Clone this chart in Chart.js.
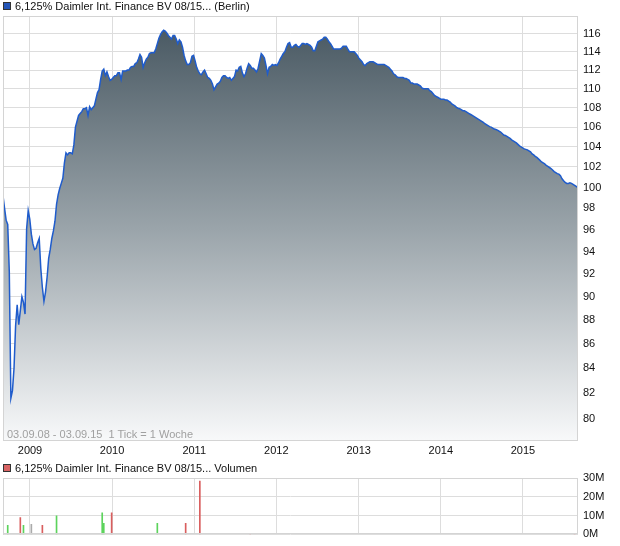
<!DOCTYPE html>
<html>
<head>
<meta charset="utf-8">
<script src="https://cdn.jsdelivr.net/npm/chart.js"></script>
<style>
    body { margin: 0; background: #fff; font-family: "Liberation Sans", Arial, sans-serif; }
    #wrap { position: relative; width: 620px; height: 546px; overflow: hidden; }
    .hdr { position: absolute; left: 3px; font-size: 11px; line-height: 12px; color: #111; white-space: nowrap; }
    .box { display: inline-block; width: 6px; height: 6px; border: 1px solid #333; margin-right: 4px; }
    #priceChart { position: absolute; left: 0; top: 0; }
    #volumeChart { position: absolute; left: 0; top: 460px; }
    .note { position: absolute; left: 7px; top: 428px; font-size: 11px; line-height: 12px; color: #a0a0a0; white-space: nowrap; }
</style>
</head>
<body>
<div id="wrap">
    <canvas id="priceChart" width="620" height="460"></canvas>
    <canvas id="volumeChart" width="620" height="86"></canvas>
    <div class="hdr" style="top:0px"><span class="box" style="background:#2456b8"></span>6,125% Daimler Int. Finance BV 08/15... (Berlin)</div>
    <div class="hdr" style="top:462px"><span class="box" style="background:#d96464"></span>6,125% Daimler Int. Finance BV 08/15... Volumen</div>
    <div class="note">03.09.08 - 03.09.15&nbsp; 1 Tick = 1 Woche</div>
</div>

<script>
// Zeitraum: 03.09.08 - 03.09.15, 1 Tick = 1 Woche
const startDate = Date.UTC(2008, 8, 3);
const endDate = Date.UTC(2015, 8, 3);
const WEEK = 7 * 24 * 3600 * 1000;

// Wochenkurse (Woche 0 = 03.09.08)
const prices = [
    99.2, 98.0, 96.9, 96.5, 92.2, 81.6, 82.2, 84.0, 87.5, 89.3,
    87.6, 88.8, 90.0, 89.5, 88.5, 96.1, 97.8, 97.0, 95.6, 94.7,
    94.2, 94.3, 94.8, 95.2, 92.5, 90.8, 89.6, 90.4, 91.7, 93.4,
    94.2, 95.2, 95.9, 96.8, 98.4, 99.3, 99.9, 100.4, 100.9, 102.4,
    103.4, 103.2, 103.4, 103.4, 103.3, 104.2, 106.0, 106.6, 107.2, 107.4,
    107.6, 107.9, 107.9, 108.0, 107.2, 108.1, 107.8, 108.0, 108.2, 108.9,
    109.6, 109.9, 111.0, 111.9, 112.1, 111.4, 111.8, 111.3, 110.9, 111.0,
    111.2, 111.4, 111.4, 111.7, 111.7, 111.0, 111.9, 111.9, 111.9, 112.0,
    112.0, 112.3, 112.4, 112.4, 112.7, 112.8, 113.2, 113.7, 113.4, 112.3,
    112.8, 113.2, 113.4, 113.8, 113.9, 113.9, 113.9, 114.3, 114.9, 115.5,
    115.9, 116.2, 116.4, 116.3, 116.1, 115.8, 115.6, 115.4, 115.8, 115.8,
    115.4, 114.9, 115.3, 115.1, 114.5, 113.6, 113.0, 112.6, 112.6, 112.8,
    113.5, 113.6, 113.0, 112.3, 111.9, 111.6, 111.5, 111.8, 112.0, 111.6,
    111.2, 111.1, 110.9, 110.5, 109.9, 110.2, 110.5, 110.6, 110.8, 111.2,
    111.4, 111.4, 111.2, 111.1, 111.2, 110.9, 111.1, 111.3, 112.0, 111.9,
    112.3, 112.4, 111.7, 111.3, 111.6, 112.2, 112.7, 112.5, 112.2, 112.2,
    112.0, 111.8, 112.2, 113.0, 113.8, 113.6, 113.3, 112.5, 111.6, 112.3,
    112.4, 112.6, 112.5, 112.6, 112.5, 112.8, 113.2, 113.5, 113.8, 114.0,
    114.5, 114.9, 115.0, 114.5, 114.5, 114.7, 114.8, 114.6, 114.5, 114.7,
    114.9, 114.9, 114.8, 114.9, 114.8, 114.7, 114.5, 114.1, 114.1, 114.6,
    115.1, 115.2, 115.3, 115.4, 115.6, 115.6, 115.4, 115.1, 114.9, 114.6,
    114.3, 114.3, 114.3, 114.3, 114.3, 114.4, 114.6, 114.6, 114.6, 114.3,
    114.0, 114.0, 114.0, 114.0, 113.8, 113.6, 113.3, 113.1, 112.9, 112.6,
    112.5, 112.7, 112.8, 112.9, 112.9, 112.9, 112.8, 112.7, 112.6, 112.6,
    112.6, 112.6, 112.6, 112.5, 112.4, 112.3, 112.1, 111.9, 111.6, 111.5,
    111.3, 111.2, 111.2, 111.2, 111.2, 111.1, 111.1, 111.0, 110.9, 110.6,
    110.6, 110.5, 110.5, 110.5, 110.4, 110.3, 110.1, 110.0, 110.0, 110.0,
    110.0, 109.8, 109.7, 109.5, 109.3, 109.2, 109.1, 109.0, 108.9, 108.9,
    108.9, 108.8, 108.8, 108.7, 108.6, 108.4, 108.3, 108.2, 108.05, 107.95,
    107.9, 107.8, 107.7, 107.7, 107.6, 107.5, 107.4, 107.3, 107.2, 107.1,
    107.0, 106.9, 106.8, 106.7, 106.6, 106.5, 106.35, 106.25, 106.15, 106.05,
    106.0, 105.9, 105.8, 105.75, 105.7, 105.6, 105.5, 105.35, 105.2, 105.15,
    105.05, 104.95, 104.85, 104.7, 104.6, 104.5, 104.4, 104.25, 104.1, 104.0,
    103.9, 103.8, 103.75, 103.7, 103.6, 103.5, 103.3, 103.2, 103.05, 102.95,
    102.8, 102.65, 102.5, 102.4, 102.3, 102.15, 102.05, 101.95, 101.85, 101.7,
    101.55, 101.45, 101.35, 101.3, 101.15, 100.85, 100.65, 100.5, 100.4, 100.4,
    100.45, 100.4, 100.3, 100.2, 100.1, 100.0
];

// Umsätze in Mio. (Woche, Wert, Richtung)
const volWeeks = [0, 3, 11, 13, 18, 25, 34, 63, 64, 69, 98, 116, 125, 157, 363];
const volValues = [5.4, 4.8, 8.9, 4.8, 5.4, 4.8, 9.9, 11.5, 5.9, 11.5, 5.9, 5.9, 28.3, 0.3, 0.3];
const volDir = ['flat', 'up', 'down', 'up', 'flat', 'down', 'up', 'up', 'up', 'down', 'up', 'down', 'down', 'down', 'down'];

// Achsenbeschriftungen
const yearTicks = [2009, 2010, 2011, 2012, 2013, 2014, 2015];
const priceTicks = [80, 82, 84, 86, 88, 90, 92, 94, 96, 98, 100, 102, 104, 106, 108, 110, 112, 114, 116];
const volTicks = [0, 10, 20, 30];
const priceMin = 78.3;
const priceMax = 118;

const dirColors = { up: '#5cd35c', down: '#d95e5e', flat: '#aaaaaa' };
const gridColor = '#dddddd';
const labelFont = { family: 'Liberation Sans, Arial, sans-serif', size: 11 };

// Rahmen um die Zeichenfläche
const framePlugin = {
    id: 'frame',
    afterDatasetsDraw(chart) {
        const { ctx, chartArea: a } = chart;
        ctx.save();
        ctx.strokeStyle = '#d4d4d4';
        ctx.lineWidth = 1;
        ctx.strokeRect(Math.round(a.left) + 0.5, Math.round(a.top) + 0.5,
            Math.round(a.right - a.left) - 1, Math.round(a.bottom - a.top) - 1);
        ctx.restore();
    }
};

function yearAxis(showLabels, height) {
    return {
        type: 'linear',
        min: startDate,
        max: endDate,
        offset: false,
        afterBuildTicks: s => { s.ticks = yearTicks.map(y => ({ value: Date.UTC(y, 0, 1) })); },
        afterFit: s => { s.height = height; },
        grid: { color: gridColor, drawTicks: false, offset: false },
        border: { display: false },
        ticks: {
            display: showLabels,
            padding: 3,
            color: '#111',
            font: labelFont,
            maxRotation: 0,
            autoSkip: false,
            callback: v => String(new Date(v).getUTCFullYear())
        }
    };
}

// Kursverlauf (Fläche)
new Chart(document.getElementById('priceChart').getContext('2d'), {
    type: 'line',
    data: {
        datasets: [{
            data: prices.map((p, i) => ({ x: startDate + i * WEEK, y: p })),
            borderColor: '#1f5ccc',
            borderWidth: 1.5,
            pointRadius: 0,
            tension: 0,
            fill: 'start',
            backgroundColor: function(context) {
                const { ctx, chartArea } = context.chart;
                if (!chartArea) return null;
                const g = ctx.createLinearGradient(0, chartArea.top, 0, chartArea.bottom);
                g.addColorStop(0, '#45555f');
                g.addColorStop(0.5, '#9aa4aa');
                g.addColorStop(1, '#f8f9fa');
                return g;
            }
        }]
    },
    options: {
        responsive: false,
        animation: false,
        layout: { padding: { left: 3, top: 16, right: 0, bottom: 0 } },
        plugins: { legend: { display: false }, tooltip: { enabled: false } },
        scales: {
            x: yearAxis(true, 19),
            y: {
                type: 'logarithmic',
                position: 'right',
                min: priceMin,
                max: priceMax,
                afterBuildTicks: s => { s.ticks = priceTicks.map(v => ({ value: v })); },
                afterFit: s => { s.width = 42; },
                grid: { color: gridColor, drawTicks: false },
                border: { display: false },
                ticks: { padding: 5, color: '#111', font: labelFont, callback: v => String(v) }
            }
        }
    },
    plugins: [framePlugin]
});

// Umsatz
new Chart(document.getElementById('volumeChart').getContext('2d'), {
    type: 'bar',
    data: {
        datasets: [{
            data: volWeeks.map((w, i) => ({ x: startDate + w * WEEK, y: volValues[i] })),
            backgroundColor: volDir.map(d => dirColors[d]),
            barThickness: 1,
            borderWidth: 0
        }]
    },
    options: {
        responsive: false,
        animation: false,
        layout: { padding: { left: 3, top: 18, right: 0, bottom: 0 } },
        plugins: { legend: { display: false }, tooltip: { enabled: false } },
        scales: {
            x: yearAxis(false, 10),
            y: {
                position: 'right',
                min: 0,
                max: 30,
                afterBuildTicks: s => { s.ticks = volTicks.map(v => ({ value: v })); },
                afterFit: s => { s.width = 42; },
                grid: { color: gridColor, drawTicks: false },
                border: { display: false },
                ticks: { padding: 5, color: '#111', font: labelFont, callback: v => v + 'M' }
            }
        }
    },
    plugins: [framePlugin]
});
</script>
</body>
</html>
